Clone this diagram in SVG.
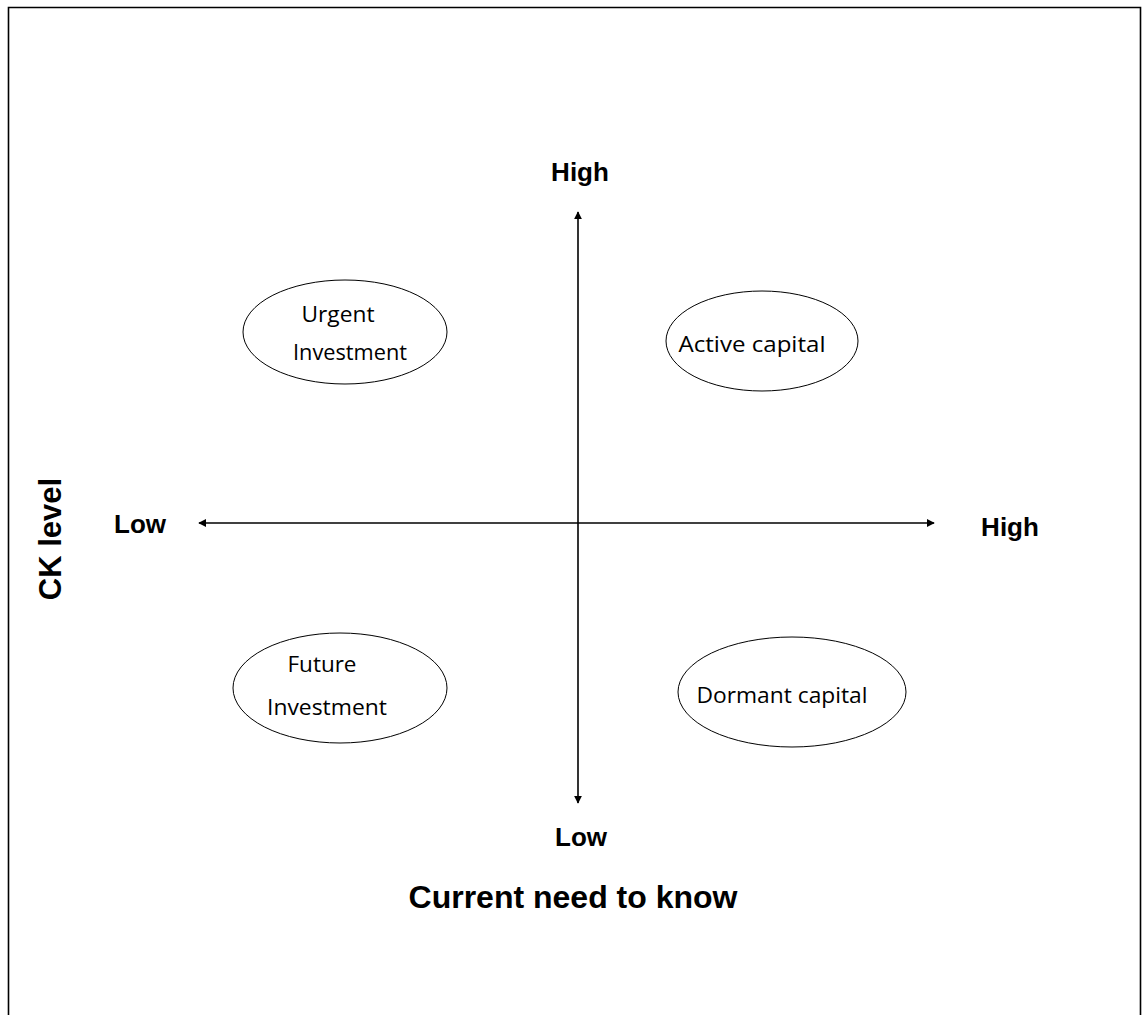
<svg xmlns="http://www.w3.org/2000/svg" width="1143" height="1015" viewBox="0 0 1143 1015">
<style>
.node ellipse{fill:#fff;stroke:#000;stroke-width:1}
.nt{font-family:"Open Sans","Liberation Sans",sans-serif;font-size:22px;fill:#000}
.lb{font-family:"Liberation Sans",Arial,sans-serif;font-weight:bold;font-size:26px;fill:#000}
.ax{stroke:#000;stroke-width:1.6;fill:none}
</style>
<defs>
<marker id="ah" viewBox="0 0 10 10" refX="9" refY="5" markerWidth="8" markerHeight="8" orient="auto-start-reverse" markerUnits="userSpaceOnUse">
<path d="M0,0 L10,5 L0,10 z" fill="#000"/>
</marker>
</defs>
<rect width="1143" height="1015" fill="#fff"/>
<path d="M8.5,1015 V7.5 H1140.5 V1015" fill="none" stroke="#000" stroke-width="1.6"/>
<g id="connectors">
<line class="ax" x1="578" y1="803" x2="578" y2="212" marker-start="url(#ah)" marker-end="url(#ah)"/>
<line class="ax" x1="199" y1="523" x2="934" y2="523" marker-start="url(#ah)" marker-end="url(#ah)"/>
</g>
<g id="urgent" class="node">
<ellipse cx="345" cy="332" rx="102" ry="52"/>
<text class="nt" x="338" y="322" text-anchor="middle" textLength="73" lengthAdjust="spacingAndGlyphs">Urgent</text>
<text class="nt" x="350" y="360" text-anchor="middle" textLength="114" lengthAdjust="spacingAndGlyphs">Investment</text>
</g>
<g id="active" class="node">
<ellipse cx="762" cy="341" rx="96" ry="50"/>
<text class="nt" x="752" y="352" text-anchor="middle" textLength="147" lengthAdjust="spacingAndGlyphs">Active capital</text>
</g>
<g id="future" class="node">
<ellipse cx="340" cy="688" rx="107" ry="55"/>
<text class="nt" x="322" y="672" text-anchor="middle" textLength="69" lengthAdjust="spacingAndGlyphs">Future</text>
<text class="nt" x="327" y="715" text-anchor="middle" textLength="120" lengthAdjust="spacingAndGlyphs">Investment</text>
</g>
<g id="dormant" class="node">
<ellipse cx="792" cy="692" rx="114" ry="55"/>
<text class="nt" x="782" y="703" text-anchor="middle" textLength="171" lengthAdjust="spacingAndGlyphs">Dormant capital</text>
</g>
<g id="labels">
<text class="lb" x="580" y="181" text-anchor="middle">High</text>
<text class="lb" x="140" y="533" text-anchor="middle">Low</text>
<text class="lb" x="1010" y="536" text-anchor="middle">High</text>
<text class="lb" x="581" y="846" text-anchor="middle">Low</text>
<text class="lb" x="573" y="908" text-anchor="middle" style="font-size:32px">Current need to know</text>
<text class="lb" transform="translate(61,539) rotate(-90)" text-anchor="middle" style="font-size:31px">CK level</text>
</g>
</svg>
